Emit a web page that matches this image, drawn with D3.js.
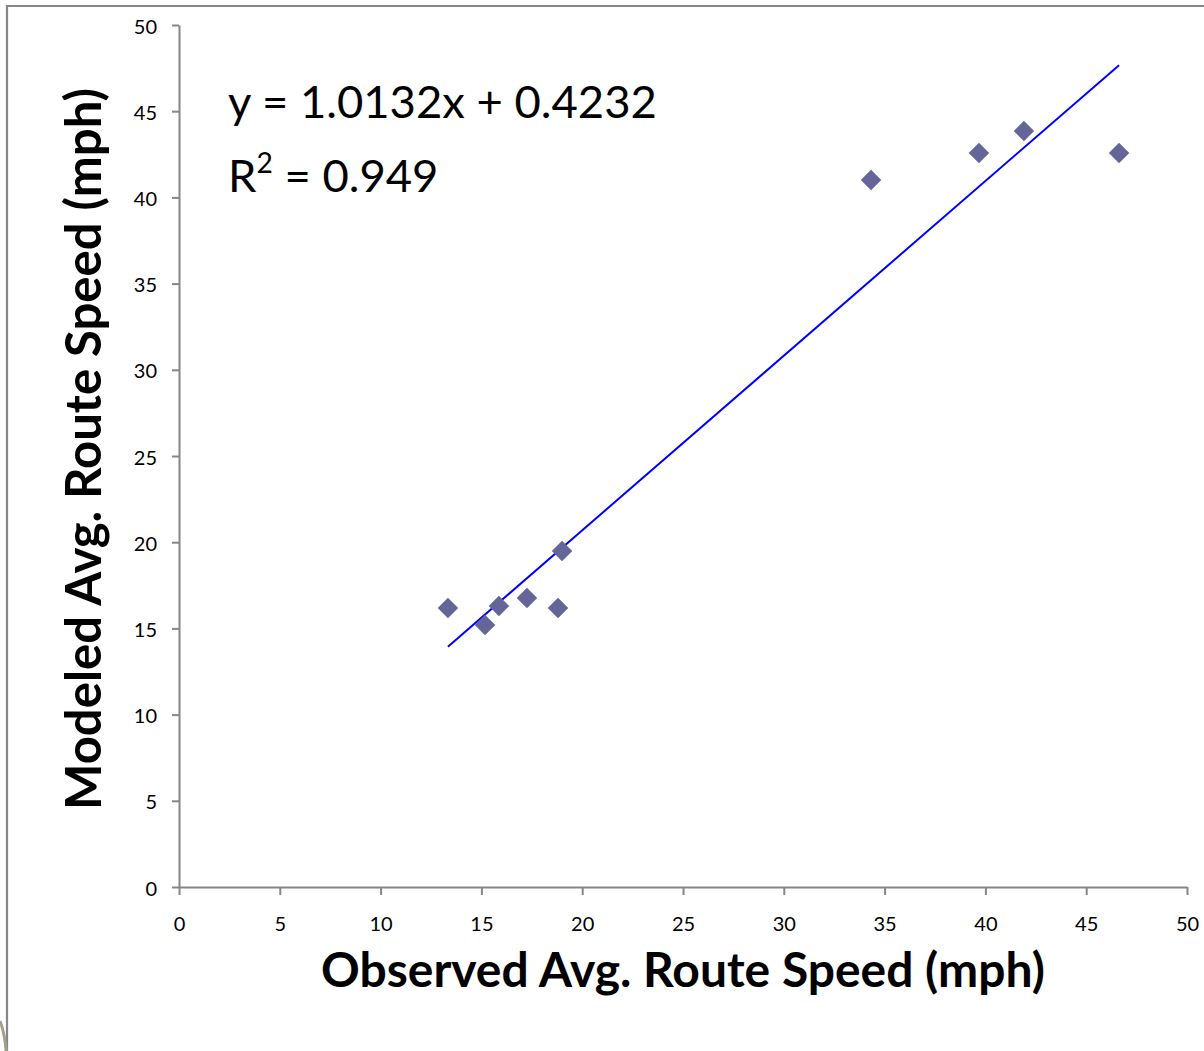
<!DOCTYPE html>
<html>
<head>
<meta charset="utf-8">
<script src="https://cdn.jsdelivr.net/npm/d3@7"></script>
<style>
  html, body { margin: 0; padding: 0; background: #fff; }
  svg { display: block; }
  text { font-family: Lato, "Open Sans", "Liberation Sans", sans-serif; fill: #000; }
</style>
</head>
<body>
<script>
// ---- data ----
const observed = [13.34, 15.18, 15.87, 17.26, 18.80, 19.0, 34.33, 39.68, 41.91, 46.63];
const modeled  = [16.18, 15.20, 16.30, 16.76, 16.18, 19.49, 41.01, 42.58, 43.85, 42.58];
const xTicks = [0, 5, 10, 15, 20, 25, 30, 35, 40, 45, 50];
const yTicks = [0, 5, 10, 15, 20, 25, 30, 35, 40, 45, 50];
const trendSlope = 1.0132;
const trendIntercept = 0.4232;
const rSquared = 0.949;
const xTitle = "Observed Avg. Route Speed (mph)";
const yTitle = "Modeled Avg. Route Speed (mph)";

const W = 1204, H = 1051;
const svg = d3.select("body").append("svg").attr("width", W).attr("height", H);

// frame
svg.append("path").attr("d", `M7,${H} L7,6 L${W},6`)
  .attr("fill", "none").attr("stroke", "#888888").attr("stroke-width", 2.2);
svg.append("path").attr("d", `M0,1021 Q5,1034 6,1051`)
  .attr("fill", "none").attr("stroke", "#a3a18c").attr("stroke-width", 3);

const x = d3.scaleLinear().domain([0, 50]).range([179, 1187]);
const y = d3.scaleLinear().domain([0, 50]).range([887, 25]);

const axisColor = "#868686";
const gx = svg.append("g").attr("transform", `translate(0,${y(0)})`)
  .call(d3.axisBottom(x).tickValues(xTicks).tickFormat(d3.format("d"))
    .tickSize(8).tickSizeOuter(0).tickPadding(22));
const gy = svg.append("g").attr("transform", `translate(${x(0)},0)`)
  .call(d3.axisLeft(y).tickValues(yTicks).tickFormat(d3.format("d"))
    .tickSize(7).tickSizeOuter(0).tickPadding(15));
[gx, gy].forEach(g => {
  g.select(".domain").attr("stroke", axisColor).attr("stroke-width", 2);
  g.selectAll(".tick line").attr("stroke", axisColor).attr("stroke-width", 2);
  g.selectAll(".tick text").attr("font-size", 20).attr("font-family", "Lato, 'Open Sans', sans-serif").attr("fill", "#000");
});
gy.selectAll(".tick text").attr("dy", "0.40em");

// trendline
const xMin = d3.min(observed), xMax = d3.max(observed);
svg.append("line")
  .attr("x1", x(xMin)).attr("y1", y(trendSlope * xMin + trendIntercept))
  .attr("x2", x(xMax)).attr("y2", y(trendSlope * xMax + trendIntercept))
  .attr("stroke", "#0000ff").attr("stroke-width", 2);

// points
const diamond = d3.symbol().type(d3.symbolSquare).size(210);
svg.append("g").selectAll("path").data(observed.map((o, i) => [o, modeled[i]]))
  .join("path")
  .attr("d", diamond)
  .attr("transform", d => `translate(${x(d[0])},${y(d[1])}) rotate(45)`)
  .attr("fill", "#656599");

function fit(sel, target, base) {
  sel.attr("font-size", base);
  const len = sel.node().getComputedTextLength();
  sel.attr("font-size", base * target / len);
}

// equation
const eq1 = svg.append("text").attr("x", 228).attr("y", 118)
  .text(`y = ${trendSlope}x + ${trendIntercept}`);
fit(eq1, 429, 40);
const fs = +eq1.attr("font-size");
const eq2 = svg.append("text").attr("x", 228).attr("y", 192).attr("font-size", fs);
eq2.append("tspan").text("R");
eq2.append("tspan").attr("dy", -fs * 0.42).attr("font-size", fs * 0.62).text("2");
eq2.append("tspan").attr("dy", fs * 0.42).text(` = ${rSquared}`);

// axis titles
const tx = svg.append("text").attr("x", 683).attr("y", 987)
  .attr("text-anchor", "middle").attr("font-weight", "bold").text(xTitle);
fit(tx, 724, 44);
const ty = svg.append("text").attr("transform", "translate(101,449) rotate(-90)")
  .attr("text-anchor", "middle").attr("font-weight", "bold").text(yTitle);
fit(ty, 722, 44);
</script>
</body>
</html>
